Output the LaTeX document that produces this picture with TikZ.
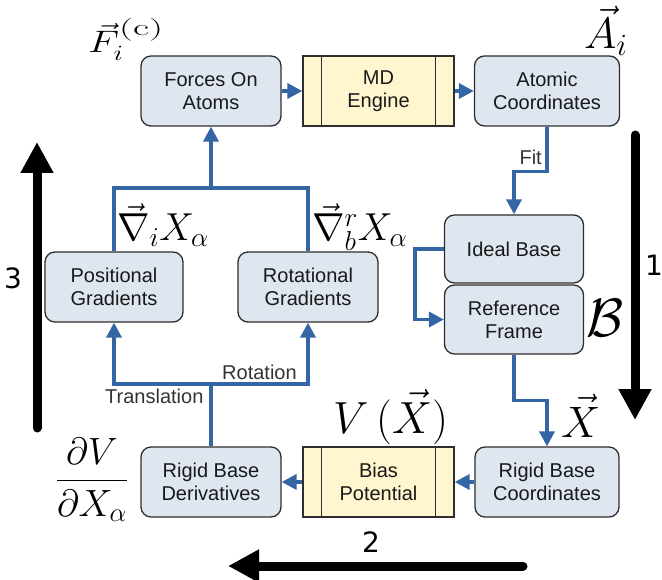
\RequirePackage{fix-cm}
\documentclass[tikz,border=0pt]{standalone}
\usepackage{amsmath}
\usepackage[no-math]{fontspec}
\setsansfont{Liberation Sans}
\newfontfamily\numfont{DejaVu Sans}
\usetikzlibrary{arrows.meta}
\definecolor{boxfill}{HTML}{DEE6EF}
\definecolor{procfill}{HTML}{FFF5CE}
\definecolor{bordc}{HTML}{2E2E2E}
\definecolor{bluec}{HTML}{3465A4}
\definecolor{lblc}{HTML}{333333}
\newcommand\bxfont{\sffamily\fontsize{20}{23}\selectfont}
\newcommand\msize[1]{\fontsize{#1}{#1}\selectfont}
\begin{document}
\begin{tikzpicture}[x=1pt,y=-1pt,
  box/.style={draw=bordc, line width=1.3pt, fill=boxfill, rounded corners=10pt,
    minimum width=140pt, minimum height=70pt, align=center, font=\bxfont,
    text=black!90, inner sep=0pt},
  proc/.style={draw=bordc, line width=1.3pt, fill=procfill, minimum width=151pt,
    minimum height=70pt, align=center, font=\bxfont, text=black!90, inner sep=0pt},
  wire/.style={draw=bluec, line width=3.5pt},
  conn/.style={wire, -{Triangle[length=15pt,width=15pt]}},
  big/.style={line width=9pt, line cap=round, -{Triangle[length=31pt,width=31pt]}},
  lbl/.style={font=\sffamily\fontsize{20}{20}\selectfont, text=lblc, inner sep=0pt},
  num/.style={font=\numfont\fontsize{28}{28}\selectfont, inner sep=0pt},
  mth/.style={inner sep=0pt}]
\useasboundingbox (0,0) rectangle (662,580);

% boxes
\node[box] (forces) at (211,91) {Forces On\\Atoms};
\node[proc] (md) at (378.5,91) {MD\\Engine};
\node[box, minimum width=145pt] (atomic) at (547,91) {Atomic\\Coordinates};
\node[box, minimum width=138pt] (pos) at (114,287) {Positional\\Gradients};
\node[box] (rot) at (308,287) {Rotational\\Gradients};
\node[box, minimum width=139pt, minimum height=68pt] (ideal) at (514,249) {Ideal Base};
\node[box, minimum width=139pt, minimum height=69pt] (ref) at (514,319.5) {Reference\\Frame};
\node[box] (deriv) at (211,482) {Rigid Base\\Derivatives};
\node[proc] (bias) at (378.5,482) {Bias\\Potential};
\node[box, minimum width=144pt] (rbc) at (547,482) {Rigid Base\\Coordinates};

% process inner lines
\foreach \n in {md,bias}{
  \draw[bordc, line width=1.3pt] ([xshift=19pt]\n.north west) -- ([xshift=19pt]\n.south west);
  \draw[bordc, line width=1.3pt] ([xshift=-19pt]\n.north east) -- ([xshift=-19pt]\n.south east);
}

% connectors
\draw[conn] (forces) -- (md);
\draw[conn] (md) -- (atomic);
\draw[conn] (atomic.south) -- ++(0,45) -| (ideal.north);
\draw[conn] (ideal.west) -- ++(-29,0) |- (ref.west);
\draw[conn] (ref.south) -- ++(0,46) -| (rbc.north);
\draw[conn] (rbc) -- (bias);
\draw[conn] (bias) -- (deriv);

\coordinate (tb) at (211,384);
\draw[conn] (deriv.north) -- (tb) -| (pos.south);
\draw[conn] (tb) -| (rot.south);

\coordinate (tt) at (211,188);
\draw[conn] (pos.north) |- (tt) -- (forces.south);
\draw[wire] (rot.north) |- (tt);

% connector labels
\node[lbl, anchor=base east] (fit) at (542,165) {Fit};
\node[lbl, anchor=base west] (rotl) at (222,380) {Rotation};
\node[lbl, anchor=base west] (trl) at (105,403) {Translation};

% big arrows
\coordinate (a1s) at (635,135); \coordinate (a1e) at (635,420);
\coordinate (a2s) at (523,566); \coordinate (a2e) at (228,566);
\coordinate (a3s) at (37,428);  \coordinate (a3e) at (37,142);
\draw[big] (a1s) -- (a1e);
\draw[big] (a2s) -- (a2e);
\draw[big] (a3s) -- (a3e);
\node[num] (n1) at (654,265) {1};
\node[num] (n2) at (371,542) {2};
\node[num] (n3) at (13,278) {3};

% math labels
\node[mth, anchor=base west] (mF) at (88,53) {\scalebox{1.3}[1]{\msize{31}$\vec{F}_i^{\raisebox{6pt}{\scalebox{1.4}[1.05]{$\scriptstyle(\mathrm{c})$}}}$}};
\node[mth, anchor=base west] (mA) at (584,49) {\msize{44}$\vec{A}_i$};
\node[mth, anchor=base west] (mg1) at (117,241) {\msize{39}$\vec{\nabla}_i X_\alpha$};
\node[mth, anchor=base west] (mg2) at (312,241) {\msize{39}$\vec{\nabla}_b^r X_\alpha$};
\node[mth, anchor=base west] (mB) at (586,337) {\msize{54}$\mathcal{B}$};
\node[mth, anchor=base west] (mX) at (561,437) {\msize{44}$\vec{X}$};
\node[mth, anchor=base west] (mV) at (333,433) {\msize{45}$V\,(\vec{X})$};
\node[mth, anchor=base] (mdV) at (92,490) {\msize{38}$\dfrac{\partial V}{\partial X_\alpha}$};
\end{tikzpicture}
\end{document}
